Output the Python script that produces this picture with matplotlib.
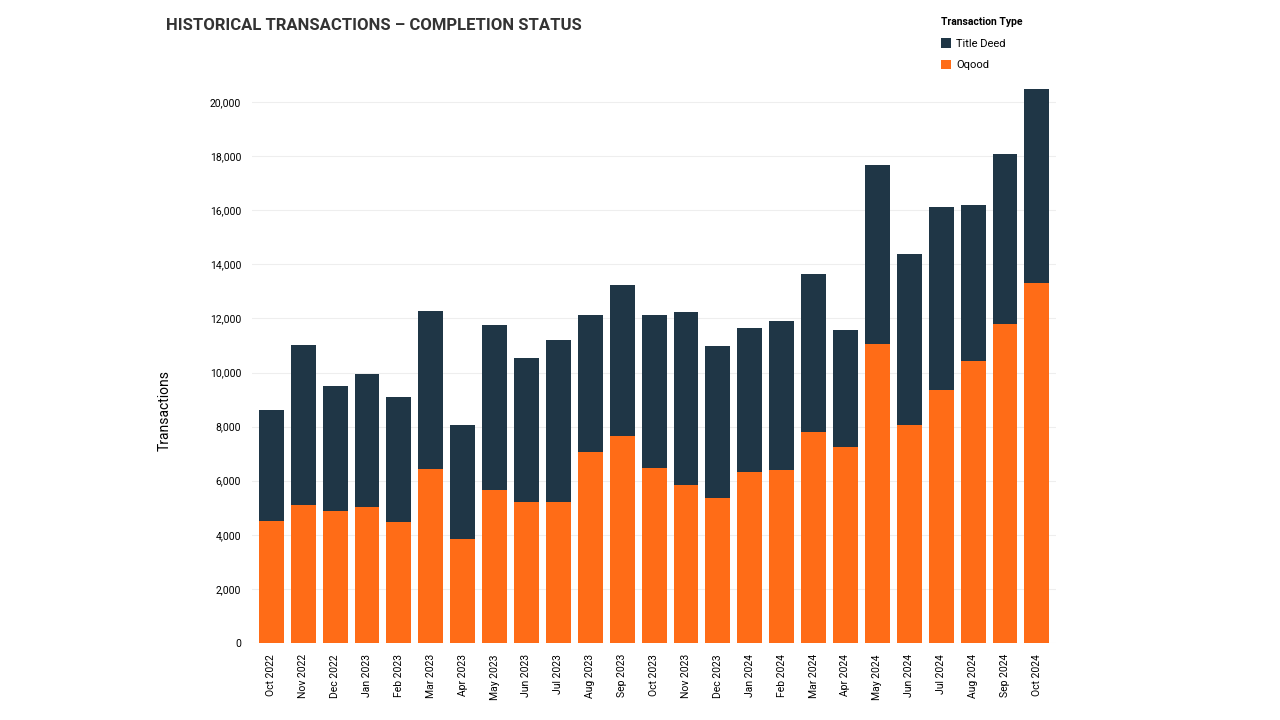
import matplotlib.pyplot as plt
import numpy as np

months = ['Oct 2022', 'Nov 2022', 'Dec 2022', 'Jan 2023', 'Feb 2023', 'Mar 2023', 'Apr 2023',
          'May 2023', 'Jun 2023', 'Jul 2023', 'Aug 2023', 'Sep 2023', 'Oct 2023', 'Nov 2023',
          'Dec 2023', 'Jan 2024', 'Feb 2024', 'Mar 2024', 'Apr 2024', 'May 2024', 'Jun 2024',
          'Jul 2024', 'Aug 2024', 'Sep 2024', 'Oct 2024']
totals = [8610, 11020, 9500, 9940, 9090, 12270, 8060, 11760, 10540, 11200, 12130, 13230,
          12130, 12240, 10980, 11650, 11900, 13640, 11570, 17690, 14370, 16130, 16180, 18070, 20470]
oqood = [4510, 5100, 4880, 5030, 4470, 6430, 3840, 5660, 5210, 5210, 7060, 7650,
         6470, 5840, 5360, 6320, 6400, 7800, 7250, 11060, 8050, 9360, 10420, 11790, 13310]
title_deed = [t - o for t, o in zip(totals, oqood)]

plt.rcParams['font.family'] = ['Roboto', 'DejaVu Sans']
navy = '#1f3646'
orange = '#ff6c17'

fig = plt.figure(figsize=(12.8, 7.2), dpi=100)
ax = fig.add_axes([0.197, 0.107, 0.628, 0.77])
x = np.arange(len(months))
ax.bar(x, oqood, width=0.78, color=orange, label='Oqood')
ax.bar(x, title_deed, width=0.78, bottom=oqood, color=navy, label='Title Deed')

ax.set_xlim(-0.6, len(months) - 0.4)
ax.set_ylim(0, 20500)
ax.set_yticks(range(0, 20001, 2000))
ax.set_yticklabels([f'{v:,}' for v in range(0, 20001, 2000)], fontsize=7.5)
ax.set_xticks(x)
ax.set_xticklabels(months, rotation=90, fontsize=7.5)
ax.grid(axis='y', color='#eeeeee', linewidth=0.8)
ax.set_axisbelow(True)
for s in ax.spines.values():
    s.set_visible(False)
ax.tick_params(length=0, pad=8)
ax.set_ylabel('Transactions', fontsize=10)
ax.yaxis.set_label_coords(-0.1, 0.42)

fig.text(0.13, 0.965, 'HISTORICAL TRANSACTIONS – COMPLETION STATUS', fontsize=12,
         fontweight='bold', color='#333333', va='center')

handles, labels = ax.get_legend_handles_labels()
leg = fig.legend(handles[::-1], labels[::-1], loc='upper left', bbox_to_anchor=(0.727, 0.99),
                 title='Transaction Type', frameon=False, fontsize=8, handlelength=0.9,
                 handleheight=0.9, labelspacing=1.0, handletextpad=0.5)
leg.get_title().set_fontsize(7.5)
leg.get_title().set_fontweight('bold')
leg._legend_box.align = 'left'

fig.savefig('out.png')
